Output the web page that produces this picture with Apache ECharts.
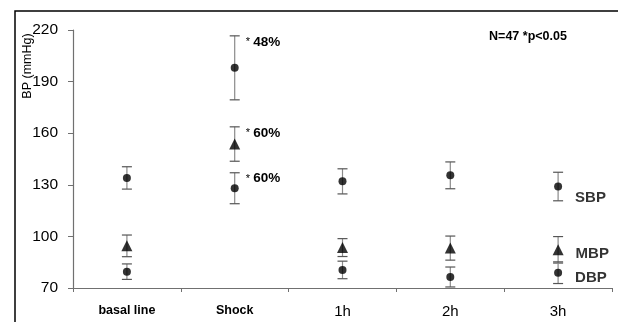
<!DOCTYPE html>
<html>
<head>
<meta charset="utf-8">
<script src="https://cdn.jsdelivr.net/npm/echarts@6/dist/echarts.min.js"></script>
<style>
html,body{margin:0;padding:0;background:#fff;}
#c{width:618px;height:322px;}
</style>
</head>
<body>
<div id="c"></div>
<script>
var categories = ['basal line', 'Shock', '1h', '2h', '3h'];
var yTicks = [70, 100, 130, 160, 190, 220];
var sbpMean = [134, 198, 132, 135.5, 129];
var sbpErr  = [6.5, 18.6, 7.3, 7.8, 8.3];
var mbpMean = [94.5, 153.7, 93.5, 93.2, 92.2];
var mbpErr  = [6.3, 10, 5.2, 7, 7.7];
var dbpMean = [79.5, 128, 80.5, 76.4, 78.9];
var dbpErr  = [4.5, 9, 5.1, 5.8, 6.3];
var sbpNote = ['', '48%', '', '', ''];
var mbpNote = ['', '60%', '', '', ''];
var dbpNote = ['', '60%', '', '', ''];
var seriesNames = ['SBP', 'MBP', 'DBP'];

var FONT = 'Liberation Sans, Arial, sans-serif';

function errData(mean, err, note) {
  return mean.map(function (m, i) { return [i, m - err[i], m + err[i], note[i]]; });
}

function errSeries(mean, err, note) {
  return {
    type: 'custom',
    z: 1,
    silent: true,
    data: errData(mean, err, note),
    renderItem: function (params, api) {
      var i = api.value(0);
      var lo = api.coord([i, api.value(1)]);
      var hi = api.coord([i, api.value(2)]);
      var x = lo[0];
      var hw = 5;
      var children = [
        { type: 'line', shape: { x1: x, y1: hi[1], x2: x, y2: lo[1] }, style: { stroke: '#8a8a8a', lineWidth: 1.2 } },
        { type: 'line', shape: { x1: x - hw, y1: hi[1], x2: x + hw, y2: hi[1] }, style: { stroke: '#555', lineWidth: 1.2 } },
        { type: 'line', shape: { x1: x - hw, y1: lo[1], x2: x + hw, y2: lo[1] }, style: { stroke: '#555', lineWidth: 1.2 } }
      ];
      var note = api.value(3);
      if (note) {
        children.push({
          type: 'text',
          style: {
            x: x + 11, y: hi[1] + 6,
            text: '{a|*} {b|' + note + '}',
            verticalAlign: 'middle',
            rich: {
              a: { fontFamily: FONT, fontSize: 11, fill: '#000' },
              b: { fontFamily: FONT, fontSize: 13.5, fontWeight: 'bold', fill: '#000' }
            }
          }
        });
      }
      return { type: 'group', children: children };
    }
  };
}

function pointSeries(name, mean, symbol, size, labelOffset) {
  return {
    name: name,
    type: 'scatter',
    z: 3,
    symbol: symbol,
    symbolSize: size,
    itemStyle: { color: '#000' },
    data: mean.map(function (m, i) {
      var d = { value: [i, m] };
      if (i === mean.length - 1) {
        d.label = {
          show: true, position: 'right', formatter: name,
          offset: labelOffset,
          fontFamily: FONT, fontSize: 15, fontWeight: 'bold', color: '#000'
        };
      }
      return d;
    })
  };
}

var chart = echarts.init(document.getElementById('c'), null, { renderer: 'canvas' });
chart.setOption({
  animation: false,
  backgroundColor: '#fff',
  grid: { left: 73, right: 6, top: 30, bottom: 34 },
  graphic: [
    { type: 'rect', shape: { x: 15, y: 11, width: 700, height: 400 }, style: { fill: 'none', stroke: '#000', lineWidth: 1.5 }, z: 10 },
    { type: 'text', x: 528, y: 37, style: { text: 'N=47 *p<0.05', fontFamily: FONT, fontSize: 12.5, fontWeight: 'bold', fill: '#000', align: 'center', verticalAlign: 'middle' } },
    { type: 'text', x: 28, y: 66, rotation: Math.PI / 2, style: { text: 'BP (mmHg)', fontFamily: FONT, fontSize: 12.5, fill: '#000', align: 'center', verticalAlign: 'middle' } }
  ],
  xAxis: {
    type: 'category',
    data: categories,
    boundaryGap: true,
    axisLine: { lineStyle: { color: '#707070', width: 1.2 } },
    axisTick: { show: true, length: 4, inside: false, lineStyle: { color: '#707070' } },
    axisLabel: {
      margin: 16,
      formatter: function (v, i) { return i < 2 ? '{b|' + v + '}' : '{r|' + v + '}'; },
      rich: {
        b: { fontFamily: FONT, fontSize: 12.5, fontWeight: 'bold', color: '#000' },
        r: { fontFamily: FONT, fontSize: 15, color: '#000' }
      }
    },
    splitLine: { show: false }
  },
  yAxis: {
    type: 'value',
    min: yTicks[0],
    max: yTicks[yTicks.length - 1],
    interval: 30,
    axisLine: { show: true, lineStyle: { color: '#707070', width: 1.2 } },
    axisTick: { show: true, length: 5, lineStyle: { color: '#707070' } },
    axisLabel: { margin: 15, fontFamily: FONT, fontSize: 15.5, color: '#000' },
    splitLine: { show: false }
  },
  series: [
    errSeries(sbpMean, sbpErr, sbpNote),
    errSeries(mbpMean, mbpErr, mbpNote),
    errSeries(dbpMean, dbpErr, dbpNote),
    pointSeries(seriesNames[0], sbpMean, 'circle', 8, [8, 11]),
    pointSeries(seriesNames[1], mbpMean, 'triangle', 11, [7, 4]),
    pointSeries(seriesNames[2], dbpMean, 'circle', 8, [8, 5])
  ]
});
</script>
</body>
</html>
